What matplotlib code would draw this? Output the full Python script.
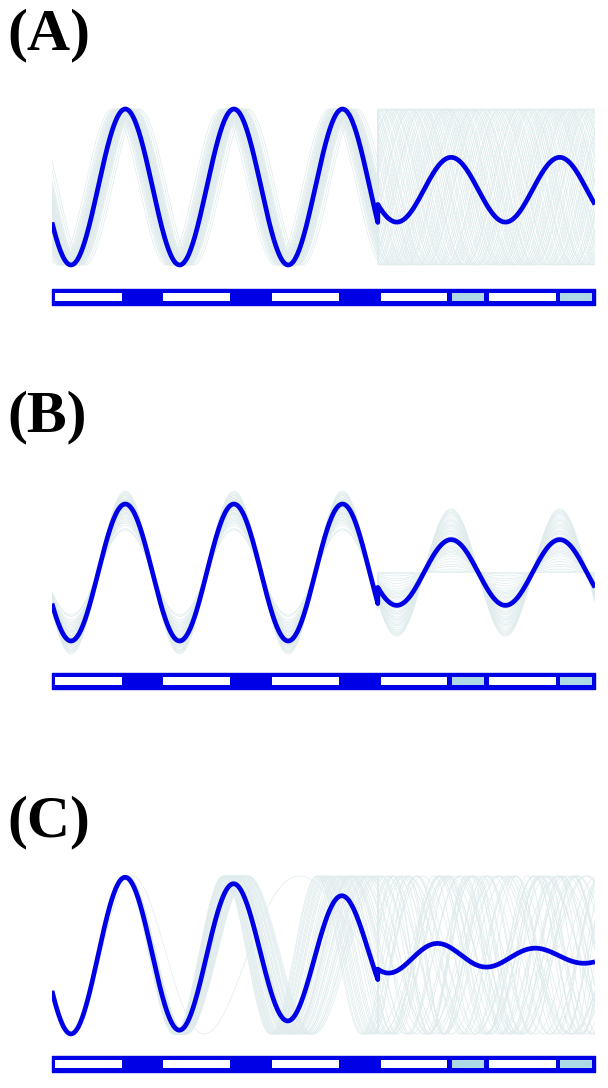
import numpy as np
import matplotlib
matplotlib.use("Agg")
import matplotlib.pyplot as plt
from matplotlib.patches import Rectangle

# ---- data (time in units of one cycle, 0..5) ----
labels = ["(A)", "(B)", "(C)"]
trough_phase = 0.175          # main curve troughs at t = 0.175 + k
switch_t = 3.0                # where the regime changes

# panel A: small phase jitter before the switch, random phase after
jitter_a = [-0.06, 0.02, 0.05, -0.01, 0.08, -0.03, 0.00, 0.04, -0.07, 0.03,
            0.11, -0.02, 0.01, -0.05, 0.06, -0.04, 0.02, -0.09, 0.07, 0.00,
            -0.12, 0.03, -0.01, 0.05, -0.03, 0.09, -0.06, 0.01, 0.04, -0.08,
            0.13, -0.02, 0.02, -0.04, 0.06, 0.00, -0.07, 0.03, -0.01, 0.05,
            -0.10, 0.08, -0.03, 0.01, 0.04, -0.05, 0.02, -0.02, 0.07, -0.04]
phase_a2 = [0.03, 0.57, 0.21, 0.88, 0.44, 0.12, 0.69, 0.35, 0.93, 0.50,
            0.26, 0.78, 0.07, 0.62, 0.40, 0.84, 0.17, 0.73, 0.31, 0.96,
            0.48, 0.09, 0.65, 0.28, 0.81, 0.14, 0.53, 0.38, 0.91, 0.01,
            0.59, 0.23, 0.76, 0.45, 0.11, 0.67, 0.33, 0.86, 0.19, 0.71,
            0.05, 0.55, 0.42, 0.98, 0.25, 0.63, 0.15, 0.80, 0.37, 0.90]
main_a2 = dict(offset=-0.035, amp=0.415)

# panel B: amplitude spread, same phase
amp_b1 = [1.19, 0.95, 0.72, 1.08, 0.88, 1.02, 0.64, 0.97, 1.13, 0.81,
          0.99, 1.05, 0.76, 0.92, 1.16, 0.85, 1.00, 0.69, 1.10, 0.94,
          0.83, 1.03, 0.90, 1.07, 0.78, 0.98, 1.12, 0.87, 0.62, 1.01,
          0.93, 1.14, 0.80, 0.96, 1.06, 0.74, 0.91, 1.04, 0.86, 1.17]
amp_b2 = [0.00, 0.62, 0.35, 0.88, 0.12, 0.51, 0.74, 0.27, 0.93, 0.44,
          0.05, 0.67, 0.39, 0.81, 0.20, 0.56, 0.71, 0.31, 0.86, 0.47,
          0.09, 0.60, 0.24, 0.78, 0.42, 0.90, 0.16, 0.53, 0.65, 0.33,
          0.84, 0.02, 0.58, 0.45, 0.76, 0.29, 0.69, 0.37, 0.91, 0.49]
main_b2 = dict(offset=0.0, amp=0.48)

# panel C: phase drift growing with time, then mixed periods
drift_c = [-0.035, 0.012, 0.028, -0.008, 0.040, -0.022, 0.003, 0.019, -0.031, 0.036,
           -0.015, 0.007, 0.025, -0.040, 0.010, -0.004, 0.033, -0.026, 0.016, 0.116,
           -0.011, 0.038, -0.019, 0.001, 0.022, -0.033, 0.014, -0.006, 0.030, -0.028,
           0.009, 0.035, -0.017, 0.004, -0.038, 0.020, -0.002, 0.027, -0.024, 0.011]
period_c2 = [0.72, 1.15, 0.88, 1.31, 0.95, 0.64, 1.04, 1.22, 0.81, 0.99,
             1.37, 0.76, 1.09, 0.91, 1.26, 0.68, 1.02, 0.85, 1.18, 0.93,
             0.79, 1.33, 0.97, 1.12, 0.70, 1.06, 0.87, 1.24, 0.83, 1.00,
             0.66, 1.29, 0.90, 1.14, 0.75, 1.08, 0.94, 1.20, 0.86, 1.40]
phase_c2 = [0.41, 0.86, 0.13, 0.67, 0.29, 0.95, 0.52, 0.08, 0.74, 0.36,
            0.61, 0.18, 0.83, 0.47, 0.02, 0.70, 0.25, 0.92, 0.57, 0.11,
            0.79, 0.33, 0.64, 0.06, 0.88, 0.44, 0.21, 0.98, 0.55, 0.15,
            0.72, 0.38, 0.90, 0.27, 0.63, 0.04, 0.81, 0.49, 0.17, 0.69]
envelope_c1 = 0.035            # main amplitude shrinks as 1 - k*t^2
main_c2 = dict(offset=-0.02, amp=0.22, decay=0.5, period=0.9, peak=3.56)

# stimulus bar: one white block + one marker block per cycle
cycles = [0, 1, 2, 3, 4]
marker_start = 0.66
marker_colors = ["#0000e6", "#0000e6", "#0000e6", "#add8e6", "#add8e6"]

BLUE = "#0000e6"
GREY = "#dfebec"
W, H = 608, 1088


def ax_px(fig, left, top, right, bottom):
    return fig.add_axes([left / W, 1 - bottom / H, (right - left) / W, (bottom - top) / H])


def wave(t, phase, amp=1.0, period=1.0):
    return -amp * np.cos(2 * np.pi * (t - phase) / period)


t1 = np.linspace(0, switch_t, 500)
t2 = np.linspace(switch_t, 5, 350)
tt = np.concatenate([t1, t2])

fig = plt.figure(figsize=(W / 100, H / 100), dpi=100)

# (center px, unit px, ylim, bar top, bar bottom, label top)
layout = [(187, 78, 1.1, 289, 305, 8),
          (572.5, 68.5, 1.26, 673, 689, 390),
          (955, 79, 1.1, 1056, 1072, 795)]

for i, (cy, unit, lim, btop, bbot, ltop) in enumerate(layout):
    ax = ax_px(fig, 52, cy - lim * unit, 595, cy + lim * unit)
    ax.set_xlim(0, 5)
    ax.set_ylim(-lim, lim)
    ax.axis("off")

    if i == 0:
        for j, ph in zip(jitter_a, phase_a2):
            y = np.concatenate([wave(t1, trough_phase + j), wave(t2, ph)])
            ax.plot(tt, y, color=GREY, lw=0.5, zorder=1)
        main = np.concatenate([wave(t1, trough_phase),
                               main_a2["offset"] + wave(t2, trough_phase, main_a2["amp"])])
    elif i == 1:
        for a1, a2 in zip(amp_b1, amp_b2):
            y = np.concatenate([wave(t1, trough_phase, a1), wave(t2, trough_phase, a2)])
            ax.plot(tt, y, color=GREY, lw=0.5, zorder=1)
        main = np.concatenate([wave(t1, trough_phase),
                               main_b2["offset"] + wave(t2, trough_phase, main_b2["amp"])])
    else:
        for d, p, ph in zip(drift_c, period_c2, phase_c2):
            y = np.concatenate([wave(t1, trough_phase + d * t1 ** 2),
                                wave(t2, switch_t + ph * p, 1.0, p)])
            ax.plot(tt, y, color=GREY, lw=0.5, zorder=1)
        m = main_c2
        env2 = m["amp"] * np.exp(-m["decay"] * (t2 - switch_t))
        main = np.concatenate([(1 - envelope_c1 * t1 ** 2) * wave(t1, trough_phase),
                               m["offset"] + env2 * np.cos(2 * np.pi * (t2 - m["peak"]) / m["period"])])
    ax.plot(tt, main, color=BLUE, lw=3.4, zorder=3, solid_capstyle="butt")

    # stimulus bar
    bax = ax_px(fig, 52, btop, 595, bbot)
    bax.set_xlim(0, 5)
    bax.set_ylim(0, 1)
    bax.axis("off")
    bax.add_patch(Rectangle((0, 0), 5, 1, facecolor=BLUE, edgecolor=BLUE, lw=1,
                            joinstyle="round", clip_on=False))
    for k, mc in zip(cycles, marker_colors):
        bax.add_patch(Rectangle((k + 0.025, 0.24), marker_start - 0.045, 0.52,
                                facecolor="white", edgecolor="none"))
        if mc != BLUE:
            bax.add_patch(Rectangle((k + marker_start + 0.02, 0.24), 1 - marker_start - 0.045, 0.52,
                                    facecolor=mc, edgecolor="none"))

    fig.text(7 / W, 1 - ltop / H, labels[i], fontsize=43, fontweight="bold",
             family="Liberation Serif", va="top", ha="left")

fig.savefig("out.png", dpi=100)
